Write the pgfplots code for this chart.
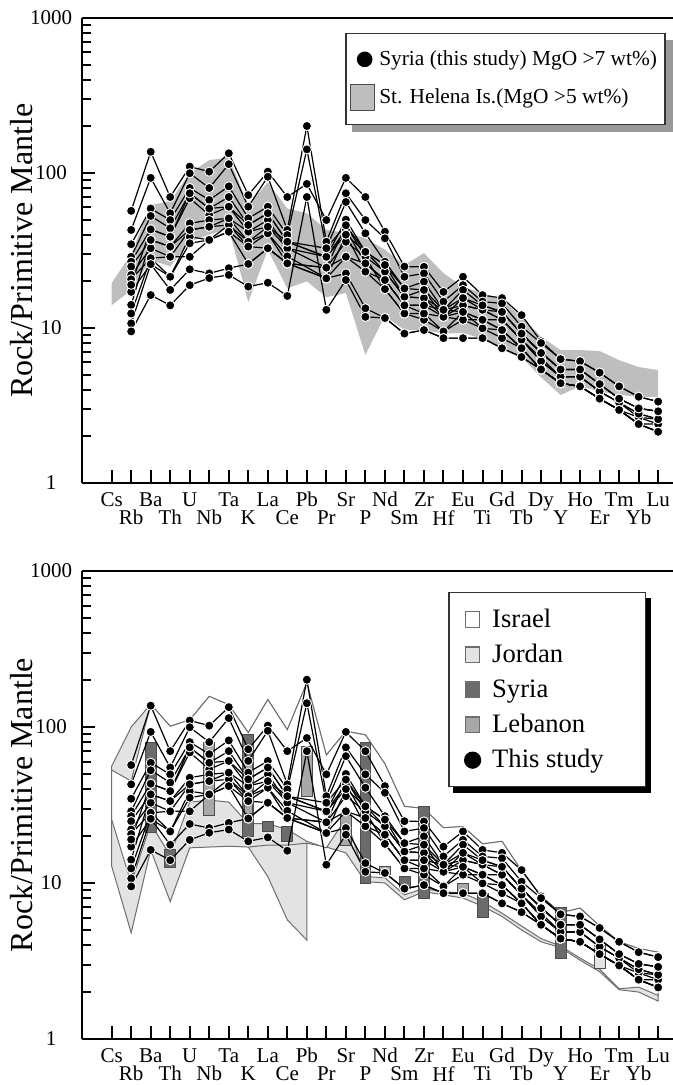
\documentclass[border=0pt]{standalone}
\usepackage{fontspec}
\setmainfont{Liberation Serif}
\usepackage{pgfplots}
\usepackage{pgfplotstable}
\pgfplotsset{compat=1.18}

\pgfdeclarelayer{legendshadow}
\pgfsetlayers{legendshadow,main}

\definecolor{helena}{HTML}{BEBEBE}
\definecolor{fieldline}{HTML}{6E6E6E}
\definecolor{jordanfill}{HTML}{E3E3E3}
\definecolor{syriafill}{HTML}{6B6B6B}
\definecolor{lebanonfill}{HTML}{A8A8A8}

% Primitive-mantle normalised abundances; x = element index (1 = Rb ... 28 = Lu)
\pgfplotstableread{
x   s1   s2   s3   s4   s5   s6   s7   s8   s9   s10  s11  s12  s13  s14
1   57   42.9 34.7 28.8 26.8 24.9 22   20.6 17.1 14.1 12.4 10.7 9.5  19
2   137  93   59   52.8 43.3 37   32.7 28.2 25.8 37   28.2 25.8 16.3 43.3
3   70   55   49.7 44   38.8 33.5 28.8 21.4 21.4 33.5 28.8 17.6 14   38.8
4   110  99.6 80   74   68.7 47.3 42.9 38.8 35.2 42.9 28.8 23.9 18.9 74
5   102  80   67   59   53.6 49.7 45   37   37   45   37   22.5 21   59
6   134  114  82   70   60.6 51   46.2 41.8 46.2 51   41.8 24.3 22   60.6
7   72   60.6 51   46.2 41.8 36   33.5 25.9 36   41.8 33.5 25.9 18.5 46.2
8   102  94.6 60.6 55   49.7 45   40.8 32.7 40.8 45   32.7 32.7 19.6 55
9   70   42.9 39.8 36   32.7 32.7 26.1 26.1 29   36   26.1 26.1 16.1 36
10  85   201  142  nan  nan  nan  nan  nan  nan  nan  nan  nan  70   nan
11  49.7 36   32.7 28.8 24.5 28.8 20.9 24.5 20.9 28.8 24.5 20.9 13.1 32.7
12  93   74   65   50   46   43   40   36   28.8 40   28.8 22.5 20.4 46
13  70   49.7 40.8 31   28.8 26.1 23.1 28.8 23.1 31   26.1 13.4 11.8 31
14  41.8 37.9 26.8 25.5 23.1 20.4 20.4 17.8 17.8 23.1 20.4 11.6 11.6 25.5
15  24.9 21.4 18   15.9 15.9 14   14   12.4 12.4 15.9 14   9.2  9.2  18
16  24.8 22.5 19.9 17.6 15.6 14   12.4 11.3 12.4 15.6 14   9.7  9.7  17.6
17  17.1 14.8 13.1 11.8 11.8 13.1 9.5  9.5  11.8 13.1 11.8 8.6  8.6  13.1
18  21.4 18.9 17.6 15.6 14   12.7 11.3 12.7 11.3 14   12.7 8.6  8.6  15.6
19  16.3 14.8 14   13.1 13.1 11.3 11.3 9.95 9.95 13.1 11.3 8.6  8.6  14
20  15.6 14.4 12.7 12.7 11.3 11.3 9.7  8.6  9.7  11.3 9.7  7.4  7.4  12.7
21  12.1 10.2 9.2  9.2  8.4  8.4  7.4  7.4  7.4  8.4  7.4  6.5  6.5  9.2
22  8.2  8.0  7.0  6.9  6.4  6.1  5.4  5.4  5.4  6.1  5.4  5.4  5.4  6.9
23  6.3  6.3  5.4  5.4  4.85 4.85 4.4  4.4  4.4  4.85 4.4  4.4  4.4  5.4
24  6.1  6.1  5.4  5.4  4.85 4.85 4.2  4.2  4.2  4.85 4.2  4.2  4.2  5.4
25  5.15 5.15 4.35 4.35 3.9  3.9  3.5  3.5  3.5  3.9  3.5  3.5  3.5  4.35
26  4.2  4.2  3.5  3.5  3.3  3.3  2.96 2.96 2.96 3.3  2.96 2.96 2.96 3.5
27  3.6  3.6  3.03 3.03 2.8  2.65 2.4  2.4  2.65 2.8  2.4  2.4  2.4  3.03
28  3.35 3.35 2.9  2.9  2.58 2.58 2.4  2.14 2.4  2.58 2.14 2.14 2.14 2.9
}\syria

% St. Helena field (upper edge Cs->Lu, then lower edge Lu->Cs)
\pgfplotstableread{
x y
0 19.5
1 30
2 62
3 66
4 100
5 121
6 126
7 62
8 87
9 59
10 55
11 43
12 41
13 38
14 32
15 25.5
16 30.4
17 22.6
18 18.4
19 16.8
20 15.2
21 11.8
22 8.8
23 7.2
24 7.2
25 7.1
26 6.2
27 5.6
28 5.35
28 3.6
27 3.6
26 3.7
25 3.9
24 4.2
23 3.7
22 4.8
21 6.5
20 7.4
19 8.5
18 9.3
17 9.2
16 9.7
15 9.7
14 12
13 6.7
12 16.8
11 15.8
10 20
9 18
8 32
7 14.7
6 44
5 40
4 36
3 25
2 27.5
1 17.6
0 14
}\helenafield

% Jordan field
\pgfplotstableread{
x y
0 56
1 100
2 140
3 101
4 111
5 157
6 139
7 92
8 150
9 96
10 192
11 66
12 94
13 89
14 58
15 31
16 30
17 22.6
18 23
19 17.8
20 18.5
21 12
22 8.2
23 6.45
24 6.9
25 5.3
26 4.2
27 3.8
28 3.6
28 1.75
27 2.0
26 2.07
25 2.7
24 3.2
23 3.85
22 4.2
21 5.0
20 6.1
19 7.1
18 8.0
17 8.4
16 8.8
15 7.8
14 10
13 10.2
12 15.6
11 17
10 18
10 4.3
9 5.8
8 11
7 17
6 17.2
5 17
4 16.8
3 7.6
2 16.3
1 4.8
0 12.8
}\jordanfield

% Israel field
\pgfplotstableread{
x y
0 53
1 45
2 140
3 101
4 111
5 157
6 139
7 92
8 150
9 96
10 192
11 66
12 94
13 89
14 58
15 31
16 30
17 22.6
18 23
19 17.8
20 18.5
21 12
22 8.2
23 6.45
24 6.9
25 5.3
26 4.2
27 3.8
28 3.6
28 1.9
27 2.15
26 2.1
25 2.8
24 3.3
23 3.95
22 4.4
21 5.3
20 6.4
19 7.6
18 8.6
17 8.8
16 9.2
15 8.4
14 10.8
13 11
12 26
11 16.8
10 18.5
9 22
8 24
7 24
6 33
5 34
4 33
3 15
2 24
1 10
0 25.5
}\israelfield

\newcommand{\fieldbar}[5]{%
  \addplot[fill=#1, draw=black!70, line width=0.4bp, forget plot]
    coordinates {(#2,#4) (#3,#4) (#3,#5) (#2,#5)} -- cycle;}

% legend swatch for the regional fields
\newcommand{\fieldswatch}[1]{%
  \addlegendimage{legend image code/.code={
      \path (0bp,0bp) (15bp,0bp);
      \draw[fill=#1, draw=fieldline, line width=0.6bp] (4bp,-3.9bp) rectangle (11bp,3.9bp);}}}

\pgfplotsset{
  spider/.style={
    scale only axis, width=295.5bp,
    xmin=-1.52, xmax=28.76,
    ymin=1, ymax=1000,
    separate axis lines,
    axis x line*=box, axis y line*=left,
    axis line style={line width=1.1bp, black},
    xtick pos=left, ytick pos=left,
    tick align=inside,
    major tick length=6.5bp, minor tick length=4.5bp,
    every tick/.style={line width=1bp, black},
    xtick={0,2,...,28},
    xticklabels={Cs,Ba,U,Ta,La,Pb,Sr,Nd,Zr,Eu,Gd,Dy,Ho,Tm,Lu},
    extra x ticks={1,3,...,27},
    extra x tick labels={Rb,Th,Nb,K,Ce,Pr,P,Sm,Hf,Ti,Tb,Y,Er,Yb},
    extra x tick style={grid=none, xticklabel style={yshift=-9bp}},
    xticklabel style={yshift=-3.5bp, inner sep=1bp},
    ytick={1,10,100,1000},
    yticklabels={1,10,100,1000},
    minor ytick={2,3,4,5,6,7,8,9,20,30,40,50,60,70,80,90,200,300,400,500,600,700,800,900},
    yticklabel style={anchor=center, xshift=-15.5bp},
    tick label style={font=\fontsize{10.5bp}{12bp}\selectfont},
    ylabel={Rock/Primitive Mantle},
    ylabel style={font=\fontsize{16bp}{18bp}\selectfont,
      at={(axis description cs:-0.102,0.5)}, anchor=center},
    legend cell align=left,
  },
  sampleline/.style={black, line width=0.6bp, forget plot, mark=none},
  sampledot/.style={only marks, forget plot, mark=*, mark size=2.3bp,
    mark options={fill=black, draw=white, line width=0.45bp}},
}

\begin{document}
\begin{tikzpicture}
\path[use as bounding box] (0,0) rectangle (336.5bp,542.5bp);

% ---------- upper panel: this study vs St. Helena ----------
\begin{axis}[ymode=log, spider, at={(41bp,301bp)}, anchor=south west, height=232.5bp,
  legend style={name=legtop, at={(axis description cs:0.4458,0.968)}, anchor=north west,
    draw=black!80, line width=0.6bp, fill=white,
    font=\fontsize{10.7bp}{13bp}\selectfont,
    inner xsep=2bp, inner ysep=6.5bp, row sep=6bp}]
  \addplot[fill=helena, draw=none, forget plot] table[x=x, y=y] {\helenafield} -- cycle;
  \pgfplotsinvokeforeach{1,...,14}{
    \addplot[sampleline] table[x=x, y=s#1] {\syria};
  }
  \pgfplotsinvokeforeach{1,...,14}{
    \addplot[sampledot] table[x=x, y=s#1] {\syria};
  }
  \addlegendimage{only marks, mark=*, mark size=3.6bp, black,
    legend image code/.code={\path (0bp,0bp) (12bp,0bp);
      \draw plot coordinates {(7bp,0bp)};}}
  \addlegendentry{Syria (this study) MgO >7 wt\%)}
  \addlegendimage{legend image code/.code={
      \draw[fill=helena, draw=black!70, line width=0.5bp] (0bp,-6.5bp) rectangle (12bp,6.5bp);}}
  \addlegendentry{St. Helena Is.(MgO >5 wt\%)}
\end{axis}
\begin{pgfonlayer}{legendshadow}
  \fill[black!40] ([shift={(3.5bp,-3.5bp)}]legtop.south west)
    rectangle ([shift={(3.5bp,-3.5bp)}]legtop.north east);
\end{pgfonlayer}

% ---------- lower panel: this study vs regional fields ----------
\begin{axis}[ymode=log, spider, at={(41bp,23bp)}, anchor=south west, height=234bp,
  legend style={name=legbot, at={(axis description cs:0.620,0.955)}, anchor=north west,
    draw=black!80, line width=0.6bp, fill=white,
    font=\fontsize{13.3bp}{15bp}\selectfont,
    inner xsep=4bp, inner ysep=6bp, row sep=3bp}]
  \addplot[fill=jordanfill, draw=fieldline, line width=0.5bp, forget plot]
    table[x=x, y=y] {\jordanfield} -- cycle;
  \addplot[fill=white, draw=fieldline, line width=0.5bp, forget plot]
    table[x=x, y=y] {\israelfield} -- cycle;
  \addplot[draw=fieldline, line width=0.5bp, forget plot]
    coordinates {(7,17) (8,17.5) (9,17.5) (10,18)};
  % Syria ranges
  \fieldbar{syriafill}{1.72}{2.28}{21}{80}
  \fieldbar{syriafill}{2.72}{3.28}{12.6}{16.4}
  \fieldbar{syriafill}{6.72}{7.28}{20}{90}
  \fieldbar{syriafill}{7.72}{8.28}{21.5}{25}
  \fieldbar{syriafill}{8.72}{9.28}{18.5}{23}
  \fieldbar{syriafill}{12.72}{13.28}{10}{80}
  \fieldbar{syriafill}{14.72}{15.28}{9.3}{11}
  \fieldbar{syriafill}{15.72}{16.28}{8}{31}
  \fieldbar{syriafill}{18.72}{19.28}{6}{8.6}
  \fieldbar{syriafill}{22.72}{23.28}{3.3}{7}
  % Lebanon ranges
  \fieldbar{lebanonfill}{4.72}{5.28}{27}{80}
  \fieldbar{lebanonfill}{6.78}{7.22}{28}{65}
  \fieldbar{lebanonfill}{9.72}{10.28}{36}{75}
  \fieldbar{lebanonfill}{11.72}{12.28}{17.5}{27}
  \fieldbar{lebanonfill}{13.72}{14.28}{11.3}{12.8}
  \fieldbar{lebanonfill}{17.72}{18.28}{8.7}{9.9}
  % Jordan range
  \fieldbar{jordanfill}{24.72}{25.28}{2.85}{4}
  \pgfplotsinvokeforeach{1,...,14}{
    \addplot[sampleline] table[x=x, y=s#1] {\syria};
  }
  \pgfplotsinvokeforeach{1,...,14}{
    \addplot[sampledot] table[x=x, y=s#1] {\syria};
  }
  \fieldswatch{white}
  \addlegendentry{Israel}
  \fieldswatch{jordanfill}
  \addlegendentry{Jordan}
  \fieldswatch{syriafill}
  \addlegendentry{Syria}
  \fieldswatch{lebanonfill}
  \addlegendentry{Lebanon}
  \addlegendimage{only marks, mark=*, mark size=4bp, black,
    legend image code/.code={\path (0bp,0bp) (15bp,0bp);
      \draw plot coordinates {(7.5bp,0bp)};}}
  \addlegendentry{This study\hspace*{15bp}}
\end{axis}
\begin{pgfonlayer}{legendshadow}
  \fill[black] ([shift={(2.5bp,-3bp)}]legbot.south west)
    rectangle ([shift={(2.5bp,-3bp)}]legbot.north east);
\end{pgfonlayer}
\end{tikzpicture}
\end{document}
